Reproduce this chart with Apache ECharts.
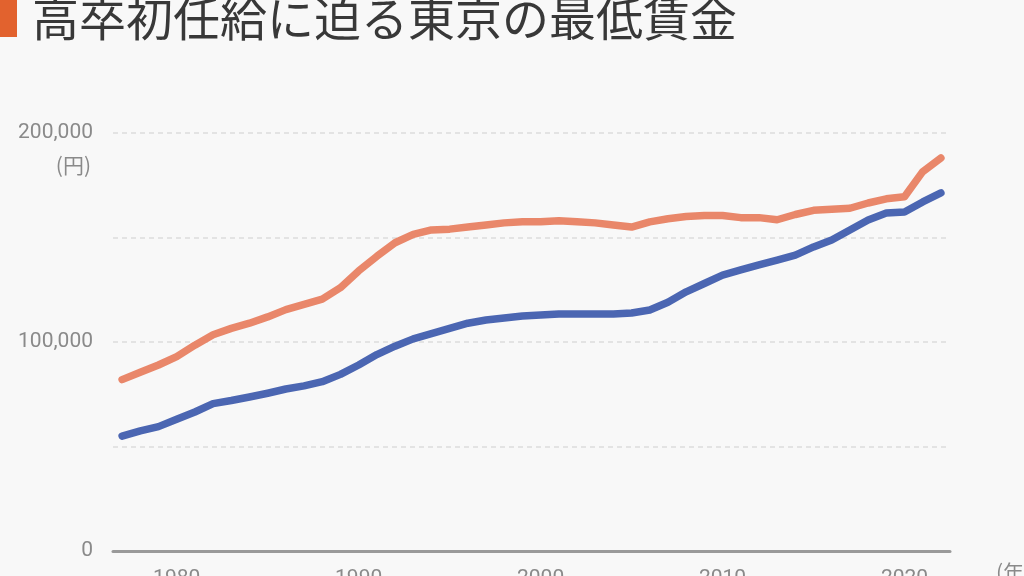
<!DOCTYPE html>
<html>
<head>
<meta charset="utf-8">
<script src="https://cdn.jsdelivr.net/npm/echarts@6/dist/echarts.min.js"></script>
<style>
  html, body { margin: 0; padding: 0; background: #f8f8f8; }
  #chart { width: 1024px; height: 576px; }
</style>
</head>
<body>
<div id="chart"></div>
<script>
// 年 (1977〜2022)
const years = [];
for (let y = 1977; y <= 2022; y++) years.push(String(y));

// 高卒初任給 (円)
const starterPay = [
  82000, 85500, 89000, 93000, 98500, 103500, 106500, 109000, 112000, 115500,
  118000, 120500, 126000, 134000, 141000, 147500, 151500, 153600, 154000, 155000,
  156000, 157000, 157500, 157500, 158000, 157500, 157000, 156000, 155000, 157500,
  159000, 160000, 160500, 160500, 159500, 159500, 158500, 161000, 163000, 163500,
  164000, 166500, 168500, 169500, 181500, 188000
];

// 東京の最低賃金 (月額換算・円)
const minWage = [
  55000, 57500, 59500, 63000, 66500, 70500, 72000, 73700, 75500, 77500,
  79000, 81000, 84500, 89000, 94000, 98000, 101500, 104000, 106500, 109000,
  110500, 111500, 112400, 112900, 113400, 113400, 113400, 113400, 113900, 115300,
  119000, 124000, 128000, 132000, 134500, 136900, 139200, 141600, 145500, 148800,
  153600, 158400, 161700, 162200, 167000, 171300
];

const yTickLabels = ['0', '100,000', '200,000'];

const chart = echarts.init(document.getElementById('chart'));

chart.setOption({
  backgroundColor: '#f8f8f8',
  animation: false,
  title: {
    text: '高卒初任給に迫る東京の最低賃金',
    left: 27,
    top: -10,
    textStyle: {
      fontFamily: 'Noto Sans CJK JP',
      fontSize: 47,
      fontWeight: 'normal',
      color: '#383838'
    }
  },
  graphic: [
    { type: 'rect', shape: { x: 0, y: 0, width: 17, height: 37 }, style: { fill: '#e2622e' } },
    {
      type: 'text', x: 91, y: 155,
      style: { text: '(円)', fill: '#8a8a8a', font: '21px "Noto Sans CJK JP"', textAlign: 'right' }
    },
    {
      type: 'text', x: 996, y: 562,
      style: { text: '(年)', fill: '#8a8a8a', font: '21px "Noto Sans CJK JP"', textAlign: 'left' }
    }
  ],
  grid: { left: 113, right: 74, top: 133, bottom: 25, outerBoundsMode: 'none' },
  xAxis: {
    type: 'category',
    data: years,
    boundaryGap: true,
    axisLine: { lineStyle: { color: '#9a9a9a', width: 3 } },
    axisTick: {
      alignWithLabel: true,
      length: 9,
      interval: (i, v) => Number(v) % 10 === 0,
      lineStyle: { color: '#cfcfcf', width: 1 }
    },
    axisLabel: {
      interval: (i, v) => Number(v) % 10 === 0,
      color: '#8a8a8a',
      fontSize: 21,
      fontFamily: 'Roboto',
      margin: 17
    },
    splitLine: { show: false }
  },
  yAxis: {
    type: 'value',
    min: 0,
    max: 200000,
    interval: 50000,
    axisLine: { show: false },
    axisTick: { show: false },
    axisLabel: {
      color: '#8a8a8a',
      fontSize: 21,
      fontFamily: 'Roboto',
      margin: 20,
      formatter: v => (v % 100000 === 0 ? yTickLabels[v / 100000] : '')
    },
    splitLine: { lineStyle: { color: '#dcdcdc', type: [5, 4], width: 1.5 } }
  },
  series: [
    {
      name: '高卒初任給',
      type: 'line',
      data: starterPay,
      symbol: 'none',
      lineStyle: { color: '#e9876a', width: 7.5, cap: 'round', join: 'round' }
    },
    {
      name: '最低賃金',
      type: 'line',
      data: minWage,
      symbol: 'none',
      lineStyle: { color: '#4b66b2', width: 7.5, cap: 'round', join: 'round' }
    }
  ]
});
</script>
</body>
</html>
